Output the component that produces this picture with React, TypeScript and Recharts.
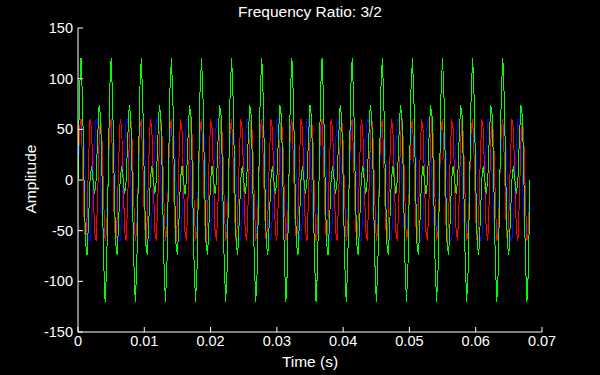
import { LineChart, Line, XAxis, YAxis } from 'recharts'

// sampling grid read from the stroke spacing: 20 samples per 1/220 s beat period
const SAMPLE_RATE = 4400

const timeTicks = [0, 0.01, 0.02, 0.03, 0.04, 0.05, 0.06, 0.07]
const ampTicks = [-150, -100, -50, 0, 50, 100, 150]

// 440 Hz tone (blue)
const blueWave = [
  0, 37, 60, 60, 37, 0, -37, -60, -60, -37, 0, 37, 60, 60, 37, 0, -37, -60, -60, -37,
  0, 37, 60, 60, 37, 0, -37, -60, -60, -37, 0, 37, 60, 60, 37, 0, -37, -60, -60, -37,
  0, 37, 60, 60, 37, 0, -37, -60, -60, -37, 0, 37, 60, 60, 37, 0, -37, -60, -60, -37,
  0, 37, 60, 60, 37, 0, -37, -60, -60, -37, 0, 37, 60, 60, 37, 0, -37, -60, -60, -37,
  0, 37, 60, 60, 37, 0, -37, -60, -60, -37, 0, 37, 60, 60, 37, 0, -37, -60, -60, -37,
  0, 37, 60, 60, 37, 0, -37, -60, -60, -37, 0, 37, 60, 60, 37, 0, -37, -60, -60, -37,
  0, 37, 60, 60, 37, 0, -37, -60, -60, -37, 0, 37, 60, 60, 37, 0, -37, -60, -60, -37,
  0, 37, 60, 60, 37, 0, -37, -60, -60, -37, 0, 37, 60, 60, 37, 0, -37, -60, -60, -37,
  0, 37, 60, 60, 37, 0, -37, -60, -60, -37, 0, 37, 60, 60, 37, 0, -37, -60, -60, -37,
  0, 37, 60, 60, 37, 0, -37, -60, -60, -37, 0, 37, 60, 60, 37, 0, -37, -60, -60, -37,
  0, 37, 60, 60, 37, 0, -37, -60, -60, -37, 0, 37, 60, 60, 37, 0, -37, -60, -60, -37,
  0, 37, 60, 60, 37, 0, -37, -60, -60, -37, 0, 37, 60, 60, 37, 0, -37, -60, -60, -37,
  0, 37, 60, 60, 37, 0, -37, -60, -60, -37, 0, 37, 60, 60, 37, 0, -37, -60, -60, -37,
  0, 37, 60, 60, 37, 0, -37, -60, -60, -37, 0, 37, 60, 60, 37, 0, -37, -60, -60, -37,
  0, 37, 60, 60, 37, 0, -37, -60, -60, -37, 0, 37, 60, 60, 37, 0, -37, -60, -60, -37,
  0,
]

// 660 Hz tone (red)
const redWave = [
  0, 51, 60, 19, -37, -63, -37, 19, 60, 51, 0, -51, -60, -19, 37, 63, 37, -19, -60, -51,
  0, 51, 60, 19, -37, -63, -37, 19, 60, 51, 0, -51, -60, -19, 37, 63, 37, -19, -60, -51,
  0, 51, 60, 19, -37, -63, -37, 19, 60, 51, 0, -51, -60, -19, 37, 63, 37, -19, -60, -51,
  0, 51, 60, 19, -37, -63, -37, 19, 60, 51, 0, -51, -60, -19, 37, 63, 37, -19, -60, -51,
  0, 51, 60, 19, -37, -63, -37, 19, 60, 51, 0, -51, -60, -19, 37, 63, 37, -19, -60, -51,
  0, 51, 60, 19, -37, -63, -37, 19, 60, 51, 0, -51, -60, -19, 37, 63, 37, -19, -60, -51,
  0, 51, 60, 19, -37, -63, -37, 19, 60, 51, 0, -51, -60, -19, 37, 63, 37, -19, -60, -51,
  0, 51, 60, 19, -37, -63, -37, 19, 60, 51, 0, -51, -60, -19, 37, 63, 37, -19, -60, -51,
  0, 51, 60, 19, -37, -63, -37, 19, 60, 51, 0, -51, -60, -19, 37, 63, 37, -19, -60, -51,
  0, 51, 60, 19, -37, -63, -37, 19, 60, 51, 0, -51, -60, -19, 37, 63, 37, -19, -60, -51,
  0, 51, 60, 19, -37, -63, -37, 19, 60, 51, 0, -51, -60, -19, 37, 63, 37, -19, -60, -51,
  0, 51, 60, 19, -37, -63, -37, 19, 60, 51, 0, -51, -60, -19, 37, 63, 37, -19, -60, -51,
  0, 51, 60, 19, -37, -63, -37, 19, 60, 51, 0, -51, -60, -19, 37, 63, 37, -19, -60, -51,
  0, 51, 60, 19, -37, -63, -37, 19, 60, 51, 0, -51, -60, -19, 37, 63, 37, -19, -60, -51,
  0, 51, 60, 19, -37, -63, -37, 19, 60, 51, 0, -51, -60, -19, 37, 63, 37, -19, -60, -51,
  0,
]

// sum of the two (green)
const greenWave = [
  0, 88, 120, 79, 0, -63, -74, -41, 0, 14, 0, -14, 0, 41, 74, 63, 0, -79, -120, -88,
  0, 88, 120, 79, 0, -63, -74, -41, 0, 14, 0, -14, 0, 41, 74, 63, 0, -79, -120, -88,
  0, 88, 120, 79, 0, -63, -74, -41, 0, 14, 0, -14, 0, 41, 74, 63, 0, -79, -120, -88,
  0, 88, 120, 79, 0, -63, -74, -41, 0, 14, 0, -14, 0, 41, 74, 63, 0, -79, -120, -88,
  0, 88, 120, 79, 0, -63, -74, -41, 0, 14, 0, -14, 0, 41, 74, 63, 0, -79, -120, -88,
  0, 88, 120, 79, 0, -63, -74, -41, 0, 14, 0, -14, 0, 41, 74, 63, 0, -79, -120, -88,
  0, 88, 120, 79, 0, -63, -74, -41, 0, 14, 0, -14, 0, 41, 74, 63, 0, -79, -120, -88,
  0, 88, 120, 79, 0, -63, -74, -41, 0, 14, 0, -14, 0, 41, 74, 63, 0, -79, -120, -88,
  0, 88, 120, 79, 0, -63, -74, -41, 0, 14, 0, -14, 0, 41, 74, 63, 0, -79, -120, -88,
  0, 88, 120, 79, 0, -63, -74, -41, 0, 14, 0, -14, 0, 41, 74, 63, 0, -79, -120, -88,
  0, 88, 120, 79, 0, -63, -74, -41, 0, 14, 0, -14, 0, 41, 74, 63, 0, -79, -120, -88,
  0, 88, 120, 79, 0, -63, -74, -41, 0, 14, 0, -14, 0, 41, 74, 63, 0, -79, -120, -88,
  0, 88, 120, 79, 0, -63, -74, -41, 0, 14, 0, -14, 0, 41, 74, 63, 0, -79, -120, -88,
  0, 88, 120, 79, 0, -63, -74, -41, 0, 14, 0, -14, 0, 41, 74, 63, 0, -79, -120, -88,
  0, 88, 120, 79, 0, -63, -74, -41, 0, 14, 0, -14, 0, 41, 74, 63, 0, -79, -120, -88,
  0,
]

const data = blueWave.map((b, i) => ({
  t: i / SAMPLE_RATE,
  blue: b,
  red: redWave[i],
  green: greenWave[i],
}))

const font = '"Liberation Sans", Arial, sans-serif'
const tickStyle = { fill: '#fff', fontSize: 14.5, fontFamily: font }

export default function App() {
  return (
    <div style={{ position: 'absolute', left: 0, top: 0, width: 600, height: 375, background: '#000', fontFamily: font, color: '#fff' }}>
      <style>{'.recharts-line-curve { shape-rendering: crispEdges; }'}</style>
      <LineChart width={600} height={375} data={data} margin={{ top: 28, right: 58, bottom: 0, left: 8 }}>
        <XAxis
          dataKey="t"
          type="number"
          domain={[0, 0.07]}
          ticks={timeTicks}
          interval={0}
          height={43}
          stroke="#fff"
          tickSize={-5}
          tickMargin={9}
          tick={tickStyle}
        />
        <XAxis
          xAxisId="top"
          orientation="top"
          dataKey="t"
          type="number"
          domain={[0, 0.07]}
          ticks={timeTicks}
          interval={0}
          height={0}
          stroke="#fff"
          tickSize={-5}
          tickFormatter={() => ''}
        />
        <YAxis
          type="number"
          domain={[-150, 150]}
          ticks={ampTicks}
          interval={0}
          width={70}
          stroke="#fff"
          tickSize={-5}
          tickMargin={10}
          tick={tickStyle}
        />
        <YAxis
          yAxisId="right"
          orientation="right"
          type="number"
          domain={[-150, 150]}
          ticks={ampTicks}
          interval={0}
          width={0}
          stroke="#fff"
          tickSize={-5}
          tickFormatter={() => ''}
        />
        <Line dataKey="blue" stroke="#0000ff" strokeWidth={1} dot={false} isAnimationActive={false} />
        <Line dataKey="red" stroke="#ff0000" strokeWidth={1} dot={false} isAnimationActive={false} />
        <Line dataKey="green" stroke="#00ff00" strokeWidth={1} dot={false} isAnimationActive={false} />
      </LineChart>
      <div style={{ position: 'absolute', left: 78, width: 464, top: 3, textAlign: 'center', fontSize: 15.5 }}>
        Frequency Ratio: 3/2
      </div>
      <div style={{ position: 'absolute', left: 78, width: 464, top: 353, textAlign: 'center', fontSize: 15.5 }}>
        Time (s)
      </div>
      <div
        style={{
          position: 'absolute',
          left: 31,
          top: 179,
          transform: 'translate(-50%, -50%) rotate(-90deg)',
          fontSize: 15.5,
          whiteSpace: 'nowrap',
        }}
      >
        Amplitude
      </div>
    </div>
  )
}
